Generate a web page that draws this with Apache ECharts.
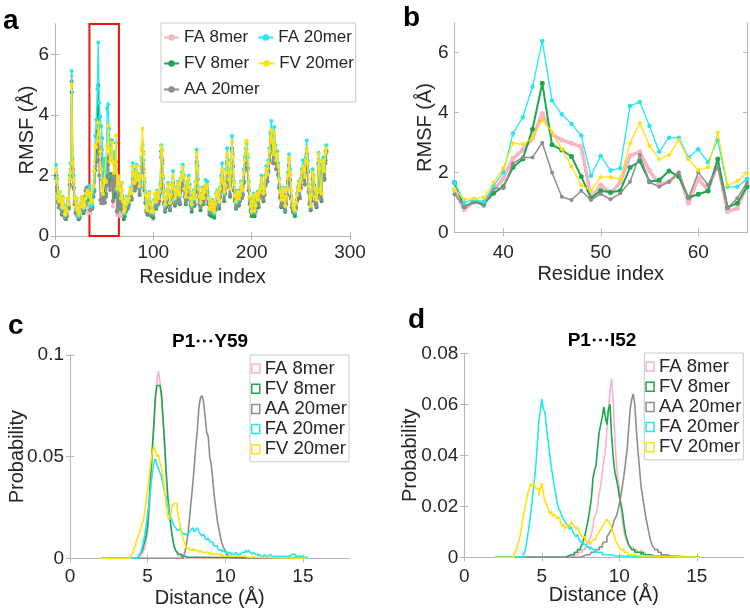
<!DOCTYPE html>
<html><head><meta charset="utf-8">
<script src="https://cdn.jsdelivr.net/npm/echarts@6/dist/echarts.min.js"></script>
<style>html,body{margin:0;padding:0;background:#fff}#c{width:750px;height:613px}</style>
</head><body><div id="c"></div><script>
// ---------- names / colours ----------
const seriesNames = ['FA 8mer','FV 8mer','AA 20mer','FA 20mer','FV 20mer'];
const seriesColors = ['#F8B4C2','#1BA84C','#8E8E8E','#22E8F2','#FFE10F'];

// ---------- panel b : residues 35..65 ----------
const bStartResidue = 35;
const b_FA8  = [1.41,0.75,1.02,0.97,1.38,1.80,2.47,2.75,3.14,3.97,3.27,3.08,2.97,2.86,1.14,1.58,1.30,1.67,2.56,2.69,2.05,1.60,1.69,1.97,0.97,1.80,1.41,2.30,0.69,0.80,1.58];
const b_FV8  = [1.66,0.86,1.02,0.94,1.30,1.52,2.17,2.45,3.44,4.98,2.92,2.75,2.53,1.86,1.14,1.39,1.34,1.39,2.16,2.38,1.69,1.75,2.05,1.86,1.16,1.27,1.38,2.45,0.83,0.97,1.52];
const b_AA20 = [1.27,0.86,1.02,0.89,1.47,1.47,2.30,2.50,2.50,2.99,2.00,1.19,1.08,1.39,1.08,1.28,1.10,1.30,1.69,2.58,1.67,1.52,1.69,2.00,1.14,2.00,1.58,2.19,0.80,1.14,1.66];
const b_FA20 = [1.66,0.99,1.10,1.02,1.55,2.00,3.30,3.84,4.86,6.39,4.40,3.94,3.62,3.23,1.89,2.55,2.06,2.14,4.22,4.35,3.55,2.69,3.16,3.16,2.50,2.77,2.34,3.08,1.52,1.52,1.78];
const b_FV20 = [1.44,1.10,1.13,1.16,1.66,2.14,2.97,2.94,3.14,3.75,3.36,2.78,2.20,1.57,1.39,1.84,1.84,1.78,2.97,3.64,2.89,2.44,2.58,3.08,2.44,2.08,2.17,3.33,1.58,1.71,1.97];

// ---------- panel a : residues 1..34 and 66..276 (35..65 = panel b) ----------
const a_FA8_pre  = [2.1,1.7,1.25,1.05,1.3,1.0,0.8,1.15,0.85,0.65, 0.6,0.75,1.1,1.0,1.85,2.2,5.3,2.3,1.75,1.15, 0.8,1.1,0.7,0.55,0.65,0.9,1.15,1.0,0.8,0.9, 1.1,1.2,1.0,0.75];
const a_FV8_pre  = [2.0,1.6,1.15,0.95,1.2,0.9,0.7,1.05,0.75,0.6, 0.55,0.65,1.0,0.9,1.7,2.05,4.75,2.2,1.6,1.05, 0.75,1.0,0.65,0.55,0.6,0.85,1.05,0.95,0.75,0.85, 1.05,1.2,1.3,1.2];
const a_AA20_pre = [1.9,1.5,1.1,0.95,1.15,0.9,0.75,1.0,0.75,0.6, 0.6,0.7,1.0,0.95,1.65,1.95,5.1,2.1,1.55,1.05, 0.75,1.0,0.65,0.6,0.65,0.85,1.1,1.0,0.8,1.3, 1.5,1.6,1.6,1.55];
const a_FA20_pre = [2.35,1.9,1.4,1.2,1.45,1.1,0.9,1.3,1.0,0.75, 0.7,0.8,1.2,1.1,2.0,2.4,5.45,2.55,2.0,1.3, 0.9,1.2,0.8,0.65,0.75,1.0,1.25,1.1,0.9,1.0, 1.2,1.35,1.45,1.3];
const a_FV20_pre = [2.2,1.8,1.3,1.15,1.45,1.2,0.95,1.25,0.95,0.7, 0.75,0.85,1.25,1.05,1.9,2.1,5.0,2.4,1.85,1.25, 0.95,1.25,0.85,0.7,0.8,1.0,1.3,1.15,0.95,1.05, 1.25,1.4,1.5,1.35];

const a_FA8_post = [
0.65,1.1,1.5,1.0,0.65,0.75,0.9,1.1,1.0,1.1,
1.3,1.4,1.3,2.1,1.95,1.6,1.85,2.1,1.7,1.85,
1.45,1.75,2.5,3.1,2.4,1.65,1.2,0.85,0.7,1.05,
1.25,0.95,0.7,0.75,0.55,1.0,1.2,1.0,1.3,1.15,
1.25,1.5,2.7,2.6,1.7,1.15,0.9,1.05,1.3,1.55,
1.15,0.95,1.2,1.5,1.9,1.4,1.1,1.2,1.4,1.6,
1.3,1.15,1.65,1.85,2.1,1.8,1.4,1.15,1.3,1.6,
1.75,1.45,1.1,0.9,1.1,1.3,1.1,1.6,2.6,2.05,
1.4,1.15,0.95,1.2,1.4,1.15,1.3,1.6,1.5,1.55,
1.15,0.8,0.95,0.75,1.05,0.8,0.65,0.95,1.2,1.3,
1.15,1.0,1.4,1.75,2.1,1.6,1.25,1.5,1.95,2.6,
2.25,1.7,1.4,1.95,3.1,2.45,1.6,1.25,1.0,1.15,
1.3,1.1,1.25,1.6,1.35,1.45,1.95,2.35,2.75,2.85,
2.4,1.6,1.15,0.9,0.75,1.05,1.25,0.7,0.9,1.15,
1.3,1.05,1.35,1.45,1.8,1.5,1.25,1.45,1.8,2.1,
1.9,2.3,2.65,3.1,3.5,3.0,2.55,3.3,2.75,2.35,
2.55,2.2,1.7,1.35,1.05,1.25,1.45,1.05,0.9,1.15,
1.45,1.9,2.5,2.0,1.35,1.05,0.9,0.8,0.7,1.0,
1.25,1.45,1.65,1.35,1.7,2.0,2.25,2.1,1.8,2.35,
2.9,2.3,1.55,1.15,0.9,1.25,2.0,1.8,1.45,1.15,
1.05,1.35,2.55,2.1,1.45,1.25,2.3,2.4,2.0,2.6,2.85];
const a_FV8_post = [
1.1,0.9,1.3,0.8,0.55,0.65,0.8,1.0,0.9,1.0,
1.2,1.3,1.2,1.9,1.8,1.5,1.7,1.95,1.6,1.75,
1.35,1.6,2.3,2.8,2.2,1.5,1.1,0.8,0.7,0.95,
1.15,0.85,0.65,0.7,0.6,0.95,1.1,0.9,1.2,1.05,
1.15,1.4,2.8,2.5,1.6,1.05,0.8,0.95,1.2,1.45,
1.05,0.85,1.1,1.4,1.75,1.3,1.0,1.1,1.3,1.5,
1.2,1.05,1.5,1.7,1.95,1.65,1.3,1.05,1.2,1.5,
1.6,1.35,1.0,0.8,1.0,1.2,1.0,1.5,2.45,1.9,
1.3,1.05,0.85,1.1,1.3,1.05,1.2,1.5,1.4,1.45,
1.05,0.7,0.85,0.65,0.95,0.7,0.6,0.85,1.1,1.2,
1.05,0.9,1.3,1.6,1.95,1.5,1.15,1.4,1.8,2.45,
2.1,1.6,1.3,1.8,2.9,2.3,1.5,1.15,0.9,1.05,
1.2,1.0,1.15,1.5,1.25,1.35,1.8,2.2,2.6,2.7,
2.25,1.5,1.05,0.8,0.65,0.95,1.15,0.65,0.8,1.05,
1.2,0.95,1.25,1.35,1.7,1.4,1.15,1.35,1.7,1.95,
1.8,2.15,2.5,2.9,3.3,2.8,2.4,3.1,2.6,2.2,
2.4,2.05,1.6,1.25,0.95,1.15,1.35,0.95,0.8,1.05,
1.35,1.8,2.35,1.85,1.25,0.95,0.8,0.75,0.65,0.9,
1.15,1.35,1.55,1.25,1.6,1.9,2.1,2.0,1.7,2.2,
2.7,2.15,1.45,1.05,0.85,1.15,1.9,1.7,1.35,1.05,
0.95,1.25,2.4,2.0,1.35,1.15,2.15,2.3,1.9,2.5,2.8];
const a_AA20_post = [
1.0,0.95,1.25,0.85,0.7,0.75,0.85,1.0,0.95,1.05,
1.2,1.3,1.25,1.85,1.75,1.5,1.65,1.9,1.6,1.7,
1.4,1.6,2.2,2.5,2.1,1.5,1.1,0.85,0.75,1.0,
1.15,0.9,0.7,0.75,0.7,0.95,1.1,0.95,1.2,1.05,
1.15,1.4,2.6,2.4,1.6,1.1,0.85,1.0,1.2,1.45,
1.1,0.9,1.1,1.4,1.7,1.3,1.05,1.1,1.3,1.45,
1.2,1.1,1.5,1.65,1.9,1.65,1.3,1.1,1.2,1.45,
1.6,1.35,1.05,0.9,1.05,1.2,1.05,1.45,2.4,1.85,
1.3,1.1,0.95,1.1,1.3,1.1,1.2,1.45,1.4,1.4,
1.1,0.8,0.9,0.75,1.0,0.8,0.7,0.9,1.1,1.2,
1.1,0.95,1.3,1.6,1.9,1.5,1.2,1.4,1.75,2.4,
2.1,1.6,1.35,1.8,2.8,2.3,1.5,1.2,0.95,1.1,
1.2,1.05,1.15,1.45,1.25,1.35,1.75,2.15,2.5,2.6,
2.2,1.5,1.1,0.85,0.75,1.0,1.15,0.75,0.85,1.1,
1.2,1.0,1.25,1.35,1.65,1.4,1.2,1.35,1.65,1.9,
1.8,2.1,2.45,2.8,3.1,2.8,2.4,3.0,2.55,2.2,
2.35,2.0,1.6,1.3,1.0,1.15,1.35,1.0,0.85,1.05,
1.35,1.75,2.3,1.85,1.3,1.0,0.85,0.8,0.75,0.95,
1.15,1.35,1.5,1.25,1.55,1.85,2.05,1.95,1.7,2.15,
2.6,2.1,1.45,1.1,0.9,1.15,1.85,1.7,1.35,1.1,
1.0,1.25,2.35,1.95,1.35,1.2,2.1,2.2,1.85,2.4,2.75];
const a_FA20_post = [
1.5,1.3,1.75,1.2,0.75,0.85,1.0,1.3,1.1,1.2,
1.4,1.6,1.5,2.4,2.2,1.8,2.1,2.35,1.9,2.05,
1.6,1.9,2.6,3.0,2.5,1.8,1.4,1.0,0.85,1.2,
1.45,1.1,0.8,0.9,0.75,1.2,1.35,1.1,1.5,1.3,
1.4,1.7,3.0,2.85,1.9,1.3,1.0,1.2,1.5,1.75,
1.3,1.1,1.4,1.7,2.15,1.6,1.2,1.4,1.6,1.8,
1.5,1.3,1.9,2.1,2.35,2.0,1.6,1.3,1.5,1.8,
2.0,1.7,1.2,1.0,1.3,1.5,1.2,1.8,2.85,2.3,
1.6,1.3,1.1,1.4,1.6,1.3,1.5,1.85,1.7,1.8,
1.3,0.9,1.1,0.85,1.2,0.9,0.75,1.1,1.4,1.5,
1.3,1.1,1.6,2.0,2.4,1.8,1.4,1.7,2.2,2.9,
2.5,1.9,1.6,2.2,3.3,2.7,1.8,1.4,1.1,1.3,
1.5,1.2,1.4,1.8,1.5,1.6,2.2,2.6,2.9,3.05,
2.6,1.8,1.3,1.0,0.85,1.2,1.4,0.8,1.0,1.3,
1.45,1.2,1.5,1.6,2.0,1.7,1.4,1.6,2.0,2.3,
2.1,2.5,2.9,3.4,3.8,3.3,2.8,3.6,3.0,2.6,
2.8,2.4,1.9,1.5,1.2,1.4,1.6,1.2,1.0,1.3,
1.6,2.1,2.7,2.2,1.5,1.2,1.0,0.9,0.8,1.1,
1.4,1.6,1.8,1.5,1.9,2.2,2.5,2.3,2.0,2.6,
3.15,2.5,1.7,1.3,1.0,1.4,2.2,2.0,1.6,1.3,
1.2,1.5,2.75,2.3,1.6,1.4,2.5,2.6,2.2,2.8,3.0];
const a_FV20_post = [
1.55,1.25,1.75,1.15,0.8,0.9,1.05,1.25,1.15,1.25,
1.45,1.55,1.4,2.3,2.1,1.75,2.0,2.3,1.85,2.0,
1.65,1.95,2.9,3.55,2.7,1.9,1.35,0.95,0.85,1.25,
1.4,1.05,0.8,0.85,0.8,1.15,1.4,1.15,1.45,1.25,
1.45,1.65,2.95,2.8,2.0,1.25,1.05,1.25,1.45,1.7,
1.35,1.1,1.35,1.65,2.0,1.55,1.25,1.35,1.55,1.75,
1.45,1.35,1.85,2.0,2.25,1.95,1.55,1.3,1.45,1.75,
1.9,1.6,1.25,1.05,1.25,1.45,1.25,1.75,2.75,2.2,
1.55,1.3,1.1,1.35,1.55,1.25,1.45,1.7,1.6,1.65,
1.25,0.9,1.05,0.9,1.15,0.95,0.8,1.05,1.35,1.45,
1.25,1.15,1.55,1.9,2.2,1.75,1.45,1.65,2.1,2.7,
2.4,1.85,1.55,2.1,3.1,2.6,1.75,1.35,1.15,1.3,
1.45,1.25,1.35,1.75,1.5,1.55,2.1,2.5,3.1,3.15,
2.7,1.75,1.3,1.0,0.8,1.15,1.35,0.85,1.0,1.3,
1.4,1.2,1.45,1.55,1.9,1.65,1.4,1.55,1.95,2.2,
2.05,2.4,2.8,3.2,3.5,3.1,2.7,3.4,2.9,2.5,
2.7,2.3,1.85,1.45,1.2,1.35,1.55,1.2,1.0,1.3,
1.55,2.0,2.6,2.1,1.5,1.2,1.0,0.9,0.85,1.1,
1.35,1.55,1.75,1.5,1.85,2.1,2.3,2.2,1.95,2.45,
2.9,2.4,1.65,1.3,1.0,1.35,2.1,1.95,1.55,1.3,
1.2,1.45,2.7,2.25,1.55,1.4,2.45,2.5,2.15,2.75,2.9];

// ---------- histograms (bin width 0.1 Å), range 2..15.2 ----------
const histLo = 2, histHi = 15.2, binW = 0.1;
// panel c  P1...Y59
const c_FA8_start = 4.5;
const c_FA8 = [0.001,0.002,0.003,0.005,0.008,0.013,0.022,0.035,0.05,0.065,0.075,0.088,0.092,0.086,0.078,0.066,0.052,0.04,0.03,0.022,0.015,0.01,0.006,0.004,0.002,0.001,0.001,0.0005];
const c_FV8_start = 4.4;
const c_FV8 = [0.001,0.002,0.003,0.005,0.008,0.011,0.016,0.028,0.042,0.054,0.066,0.08,0.085,0.085,0.085,0.08,0.068,0.056,0.042,0.03,0.022,0.016,0.01,0.006,0.004,0.003,0.002,0.002,0.001,0.001,0.001,0.0005,0.0005,0.0005,0.0005,0.0005,0.0005,0.0005];
const c_AA20_start = 7.3;
const c_AA20 = [0.001,0.003,0.007,0.012,0.02,0.028,0.036,0.045,0.055,0.063,0.074,0.079,0.08,0.077,0.07,0.062,0.06,0.05,0.046,0.038,0.03,0.024,0.018,0.014,0.01,0.007,0.005,0.004,0.002,0.001,0.001,0.0005];
const c_FA20_start = 4.4;
const c_FA20 = [0.001,0.002,0.004,0.007,0.011,0.016,0.022,0.028,0.035,0.042,0.047,0.049,0.046,0.044,0.042,0.04,0.036,0.032,0.03,0.026,
0.022,0.02,0.018,0.016,0.015,0.014,0.014,0.015,0.013,0.012,0.012,0.011,0.012,0.013,0.014,0.015,0.013,0.014,0.015,0.013,
0.012,0.011,0.012,0.01,0.009,0.01,0.008,0.008,0.007,0.006,0.006,0.005,0.004,0.004,0.003,0.004,0.003,0.003,0.002,0.003,
0.002,0.002,0.002,0.003,0.002,0.002,0.002,0.003,0.003,0.004,0.003,0.004,0.003,0.002,0.003,0.002,0.002,0.001,0.002,0.001,
0.001,0.002,0.001,0.001,0.001,0.002,0.001,0.001,0.001,0.001,0.001,0.001,0.001,0.001,0.001,0.001,0.001,0.001,0.001,0.002,
0.002,0.001,0.001,0.001,0.001,0.0005,0.0005,0.0005,0.0005,0.0005];
const c_FV20_start = 3.9;
const c_FV20 = [0.001,0.002,0.004,0.006,0.009,0.011,0.013,0.016,0.018,0.022,0.028,0.034,0.04,0.047,0.052,0.055,0.053,0.05,0.051,0.047,
0.044,0.04,0.033,0.025,0.02,0.019,0.022,0.026,0.027,0.027,0.024,0.02,0.016,0.012,0.009,0.007,0.005,0.005,0.004,0.004,
0.005,0.004,0.004,0.004,0.003,0.004,0.003,0.003,0.003,0.003,0.002,0.003,0.002,0.002,0.002,0.002,0.002,0.002,0.001,0.002,
0.001,0.001,0.001,0.001,0.001,0.001,0.001,0.001,0.001,0.001,0.001,0.001,0.001,0.001,0.001,0.0005,0.0005,0.0005,0.0005,0.0005];
// panel d  P1...I52
const d_FA8_start = 7.0;
const d_FA8 = [0.0005,0.001,0.001,0.001,0.002,0.002,0.003,0.003,0.004,0.005,0.006,0.007,0.009,0.012,0.016,0.017,0.02,0.025,0.028,0.033,
0.038,0.042,0.05,0.058,0.065,0.07,0.062,0.048,0.038,0.031,0.027,0.02,0.014,0.01,0.008,0.006,0.005,0.004,0.004,0.003,
0.003,0.003,0.002,0.002,0.003,0.002,0.002,0.001,0.001,0.001,0.001,0.0005,0.0005,0.0005,0.0005,0.0005,0.0005,0.0005,0.0005,0.0005];
const d_FV8_start = 6.5;
const d_FV8 = [0.0005,0.0005,0.001,0.001,0.001,0.001,0.002,0.002,0.003,0.003,0.004,0.005,0.007,0.009,0.012,0.015,0.019,0.023,0.031,0.034,
0.036,0.043,0.049,0.052,0.055,0.059,0.055,0.052,0.058,0.06,0.048,0.04,0.034,0.031,0.028,0.024,0.021,0.018,0.013,0.009,
0.007,0.005,0.004,0.003,0.003,0.002,0.002,0.002,0.002,0.001,0.002,0.001,0.001,0.001,0.001,0.001,0.0005,0.0005];
const d_AA20_start = 7.5;
const d_AA20 = [0.0005,0.0005,0.0005,0.001,0.001,0.001,0.001,0.002,0.002,0.002,0.003,0.003,0.004,0.004,0.005,0.006,0.006,0.008,0.009,0.01,
0.011,0.013,0.015,0.016,0.018,0.021,0.024,0.028,0.032,0.037,0.042,0.05,0.058,0.062,0.064,0.06,0.05,0.042,0.035,0.028,
0.024,0.02,0.016,0.013,0.01,0.007,0.005,0.004,0.003,0.003,0.002,0.002,0.001,0.001,0.001,0.001,0.0005,0.0005];
const d_FA20_start = 3.8;
const d_FA20 = [0.001,0.002,0.005,0.009,0.013,0.018,0.023,0.029,0.035,0.043,0.053,0.057,0.062,0.058,0.057,0.051,0.046,0.041,0.036,0.032,
0.028,0.025,0.021,0.019,0.018,0.016,0.015,0.014,0.013,0.012,0.011,0.012,0.01,0.009,0.008,0.009,0.007,0.006,0.006,0.005,
0.005,0.004,0.004,0.003,0.004,0.003,0.003,0.002,0.002,0.002,0.002,0.001,0.001,0.001,0.001,0.001,0.001,0.001,0.0005,0.0005,
0.0005,0.0005,0.0005];
const d_FV20_start = 3.2;
const d_FV20 = [0.001,0.002,0.004,0.006,0.008,0.012,0.016,0.019,0.022,0.025,0.027,0.029,0.028,0.029,0.027,0.027,0.024,0.027,0.029,0.025,
0.022,0.021,0.019,0.017,0.018,0.016,0.017,0.016,0.015,0.016,0.014,0.012,0.013,0.011,0.012,0.013,0.012,0.014,0.013,0.012,
0.011,0.012,0.01,0.009,0.008,0.008,0.007,0.006,0.006,0.005,0.006,0.007,0.007,0.008,0.009,0.01,0.011,0.012,0.013,0.014,
0.015,0.014,0.013,0.011,0.01,0.008,0.006,0.005,0.004,0.003,0.003,0.002,0.002,0.002,0.001,0.001,0.001,0.001,0.001,0.0005,
0.0005,0.0005,0.0005,0.0005];

// ---------- tick labels ----------
const aXTicks = [0,100,200,300], aYTicks = [0,2,4,6];
const bXTicks = [40,50,60], bYTicks = [0,2,4,6];
const cXTicks = [0,5,10,15], cYTicks = [0,0.05,0.1];
const dXTicks = [0,5,10,15], dYTicks = [0,0.02,0.04,0.06,0.08];

// ---------- build ----------
const FONT = '"Liberation Sans", Arial, Helvetica, sans-serif';
const TXT = '#262626', BOX = '#b5b5b5';

const aFull = [
  a_FA8_pre.concat(b_FA8, a_FA8_post),
  a_FV8_pre.concat(b_FV8, a_FV8_post),
  a_AA20_pre.concat(b_AA20, a_AA20_post),
  a_FA20_pre.concat(b_FA20, a_FA20_post),
  a_FV20_pre.concat(b_FV20, a_FV20_post)
];
const bAll = [b_FA8, b_FV8, b_AA20, b_FA20, b_FV20];
const cAll = [[c_FA8_start,c_FA8],[c_FV8_start,c_FV8],[c_AA20_start,c_AA20],[c_FA20_start,c_FA20],[c_FV20_start,c_FV20]];
const dAll = [[d_FA8_start,d_FA8],[d_FV8_start,d_FV8],[d_AA20_start,d_AA20],[d_FA20_start,d_FA20],[d_FV20_start,d_FV20]];

function stairs(start, vals) {
  const pts = [[histLo, 0]];
  vals.forEach((v, i) => pts.push([+(start + i * binW).toFixed(2), v]));
  pts.push([+(start + vals.length * binW).toFixed(2), 0]);
  pts.push([histHi, 0]);
  return pts;
}

const grids = [
  {left: 55, top: 24, width: 295, height: 212},
  {left: 454.5, top: 22.7, width: 292.5, height: 209.6},
  {left: 70, top: 355, width: 279.5, height: 203.3},
  {left: 464.3, top: 353.3, width: 279, height: 204}
];
const axDefs = [
  {x:[0,300,aXTicks], y:[0,7,aYTicks], xn:'Residue index', yn:'RMSF (Å)', xg:31, yg:18, xm:7},
  {x:[35,65,bXTicks], y:[0,7,bYTicks], xn:'Residue index', yn:'RMSF (Å)', xg:32, yg:19.5, xm:11},
  {x:[0,18,cXTicks], y:[0,0.1,cYTicks], xn:'Distance (Å)', yn:'Probability', xg:30, yg:43, xm:9},
  {x:[0,18,dXTicks], y:[0,0.08,dYTicks], xn:'Distance (Å)', yn:'Probability', xg:28.5, yg:44, xm:10}
];
const xAxes = [], yAxes = [];
axDefs.forEach((d, g) => {
  const common = {type:'value', gridIndex:g, splitLine:{show:false},
    axisLine:{show:true, lineStyle:{color:BOX, width:1}}};
  xAxes.push(Object.assign({}, common, {min:d.x[0], max:d.x[1], position:'bottom',
    axisTick:{show:true, inside:true, length:4, lineStyle:{color:BOX}, customValues:d.x[2]},
    axisLabel:{customValues:d.x[2], color:TXT, fontSize:19, fontFamily:FONT, margin:d.xm},
    name:d.xn, nameLocation:'middle', nameGap:d.xg, nameMoveOverlap:false,
    nameTextStyle:{color:TXT, fontSize:20, fontFamily:FONT}}));
  xAxes.push(Object.assign({}, common, {min:d.x[0], max:d.x[1], position:'top',
    axisTick:{show:true, inside:true, length:4, lineStyle:{color:BOX}, customValues:d.x[2]},
    axisLabel:{show:false}}));
  yAxes.push(Object.assign({}, common, {min:d.y[0], max:d.y[1], position:'left',
    axisTick:{show:true, inside:true, length:4, lineStyle:{color:BOX}, customValues:d.y[2]},
    axisLabel:{customValues:d.y[2], color:TXT, fontSize:19, fontFamily:FONT, margin:6},
    name:d.yn, nameLocation:'middle', nameGap:d.yg, nameMoveOverlap:false,
    nameTextStyle:{color:TXT, fontSize:20, fontFamily:FONT}}));
  yAxes.push(Object.assign({}, common, {min:d.y[0], max:d.y[1], position:'right',
    axisTick:{show:true, inside:true, length:4, lineStyle:{color:BOX}, customValues:d.y[2]},
    axisLabel:{show:false}}));
});

const series = [];
const aWidths = [2, 1.3, 1.3, 1.3, 1.3];
aFull.forEach((arr, k) => {
  const s = {name: seriesNames[k], type:'line', xAxisIndex:0, yAxisIndex:0,
    data: arr.map((v, i) => [i + 1, v]), symbol:'circle', symbolSize:4, showSymbol:true,
    itemStyle:{color: seriesColors[k]}, lineStyle:{color: seriesColors[k], width:aWidths[k]},
    emphasis:{disabled:true}, z: 2 + k};
  if (k === 4) {
    s.markArea = {silent:true, itemStyle:{color:'rgba(0,0,0,0)', borderColor:'#EE1111', borderWidth:2},
      data:[[{xAxis:35, yAxis:0}, {xAxis:65, yAxis:7}]]};
  }
  series.push(s);
});
const bWidths = [3.5, 2, 1.5, 1.3, 1.3];
const bSym = [5, 5, 4, 4.5, 4];
bAll.forEach((arr, k) => {
  series.push({name: seriesNames[k], type:'line', xAxisIndex:2, yAxisIndex:2,
    data: arr.map((v, i) => [bStartResidue + i, v]), symbol:'circle', symbolSize:bSym[k],
    itemStyle:{color: seriesColors[k]}, lineStyle:{color: seriesColors[k], width:bWidths[k]},
    emphasis:{disabled:true}, z: 2 + k});
});
[cAll, dAll].forEach((set, p) => {
  set.forEach((sv, k) => {
    series.push({name: seriesNames[k], type:'line', xAxisIndex:4 + 2*p, yAxisIndex:4 + 2*p,
      data: stairs(sv[0], sv[1]), step:'end', symbol:'none',
      itemStyle:{color: seriesColors[k]}, lineStyle:{color: seriesColors[k], width:1.6},
      emphasis:{disabled:true}, z: 2 + k});
  });
});

const legendA = {
  left: 161, top: 23, orient:'horizontal', width: 194, itemGap: 9, itemWidth: 15, itemHeight: 8,
  padding:[6,2,4,2], backgroundColor:'#fff', borderColor:'#c8c8c8', borderWidth:1, selectedMode:false,
  textStyle:{fontSize:17, color:TXT, fontFamily:FONT, lineHeight:12},
  data:['FA 8mer','FA 20mer','FV 8mer','FV 20mer','AA 20mer']
};
function rectLegend(pos) {
  return Object.assign({
    orient:'vertical', itemGap: 1.2, itemWidth: 8, itemHeight: 9, icon:'rect',
    padding:[4,2,3,1], backgroundColor:'#fff', borderColor:'#c8c8c8', borderWidth:1, selectedMode:false,
    textStyle:{fontSize:18.5, color:TXT, fontFamily:FONT, lineHeight:19},
    data: seriesNames.map((n, k) => ({name:n, itemStyle:{color:'#fff', borderColor:seriesColors[k], borderWidth:1.5}}))
  }, pos);
}

const graphic = [
  {type:'text', left:3, top:7, style:{text:'a', font:'bold 28px ' + FONT, fill:'#000'}},
  {type:'text', left:403, top:4, style:{text:'b', font:'bold 28px ' + FONT, fill:'#000'}},
  {type:'text', left:8, top:312, style:{text:'c', font:'bold 28px ' + FONT, fill:'#000'}},
  {type:'text', left:408, top:306, style:{text:'d', font:'bold 28px ' + FONT, fill:'#000'}},
  {type:'text', x:210, y:342, style:{text:'P1\u22EFY59', font:'bold 19px ' + FONT, fill:'#000', align:'center', verticalAlign:'middle'}},
  {type:'text', x:602, y:341, style:{text:'P1\u22EFI52', font:'bold 19px ' + FONT, fill:'#000', align:'center', verticalAlign:'middle'}}
];

const chart = echarts.init(document.getElementById('c'), null, {renderer:'canvas'});
chart.setOption({
  animation:false, backgroundColor:'#fff',
  grid: grids, xAxis: xAxes, yAxis: yAxes,
  legend: [legendA, rectLegend({right:401, top:355}), rectLegend({right:6.7, top:353})],
  graphic: graphic, series: series
});
</script></body></html>
